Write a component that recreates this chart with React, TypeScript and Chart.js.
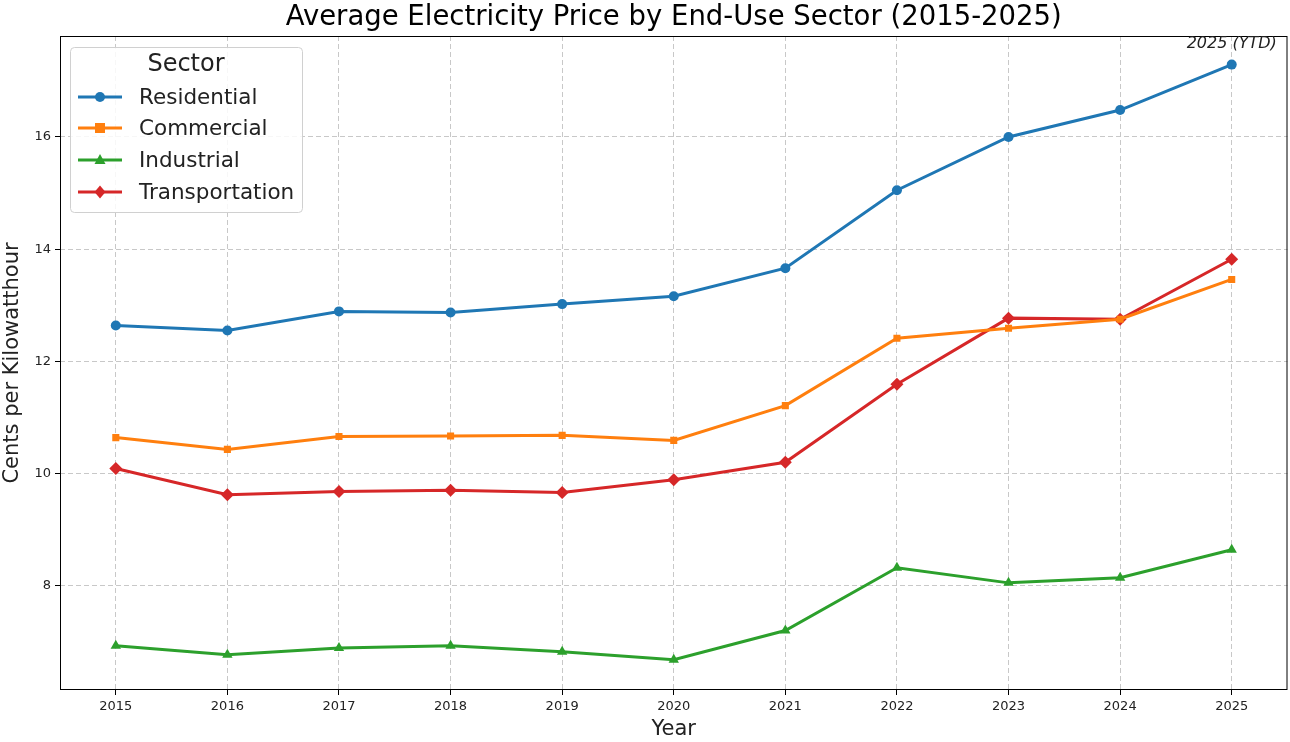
import React, { useEffect, useRef } from "react";
import { Chart, registerables } from "chart.js";

Chart.register(...registerables);

const years = [2015, 2016, 2017, 2018, 2019, 2020, 2021, 2022, 2023, 2024, 2025];
const residential = [12.64, 12.55, 12.89, 12.87, 13.02, 13.16, 13.66, 15.05, 16.0, 16.48, 17.29];
const commercial = [10.64, 10.43, 10.66, 10.67, 10.68, 10.59, 11.21, 12.41, 12.59, 12.75, 13.46];
const industrial = [6.93, 6.77, 6.89, 6.93, 6.82, 6.68, 7.2, 8.32, 8.05, 8.14, 8.64];
const transportation = [10.09, 9.62, 9.68, 9.7, 9.66, 9.89, 10.2, 11.59, 12.77, 12.75, 13.82];
const yTicks = [8, 10, 12, 14, 16];

const seriesNames = ["Residential", "Commercial", "Industrial", "Transportation"];
const seriesColors = ["#1f77b4", "#ff7f0e", "#2ca02c", "#d62728"];
const seriesMarkers = ["circle", "rect", "triangle", "rectRot"];
const seriesValues = [residential, commercial, industrial, transportation];

const FONT = "'DejaVu Sans', sans-serif";
const CANVAS_W = 1294;

function drawMarker(ctx: CanvasRenderingContext2D, style: string, x: number, y: number, r: number) {
  ctx.beginPath();
  if (style === "circle") {
    ctx.arc(x, y, r, 0, Math.PI * 2);
  } else if (style === "rect") {
    ctx.rect(x - r, y - r, r * 2, r * 2);
  } else if (style === "triangle") {
    ctx.moveTo(x, y - r * 1.2);
    ctx.lineTo(x + r * 1.1, y + r * 0.8);
    ctx.lineTo(x - r * 1.1, y + r * 0.8);
    ctx.closePath();
  } else {
    ctx.moveTo(x, y - r * 1.3);
    ctx.lineTo(x + r * 1.1, y);
    ctx.lineTo(x, y + r * 1.3);
    ctx.lineTo(x - r * 1.1, y);
    ctx.closePath();
  }
  ctx.fill();
}

const decorPlugin = {
  id: "decor",
  afterDraw(chart: any) {
    const ctx: CanvasRenderingContext2D = chart.ctx;
    const ca = chart.chartArea;
    ctx.save();
    ctx.strokeStyle = "#000";
    ctx.lineWidth = 1;
    ctx.strokeRect(ca.left + 0.5, ca.top + 0.5, ca.right - ca.left - 1, ca.bottom - ca.top - 1);
    ctx.fillStyle = "#000";
    ctx.font = `27.5px ${FONT}`;
    ctx.textAlign = "center";
    ctx.textBaseline = "middle";
    ctx.fillText("Average Electricity Price by End-Use Sector (2015-2025)", (ca.left + ca.right) / 2, 18);
    const xs = chart.scales.x;
    const ys = chart.scales.y;
    const ax = xs.getPixelForValue(2025);
    const ay = ys.getPixelForValue(residential[residential.length - 1]);
    ctx.font = `italic 16px ${FONT}`;
    ctx.fillStyle = "#222";
    ctx.fillText("2025 (YTD)", ax, ay - 21);
    const lx = 70, ly = 47, lw = 232, lh = 165;
    ctx.fillStyle = "rgba(255,255,255,0.85)";
    ctx.strokeStyle = "#d0d0d0";
    ctx.lineWidth = 1;
    ctx.beginPath();
    (ctx as any).roundRect(lx + 0.5, ly + 0.5, lw, lh, 4);
    ctx.fill();
    ctx.stroke();
    ctx.fillStyle = "#222";
    ctx.font = `24px ${FONT}`;
    ctx.textAlign = "center";
    ctx.fillText("Sector", 186, 65);
    ctx.font = `21.5px ${FONT}`;
    ctx.textAlign = "left";
    const rowY = [97, 128, 160, 192];
    for (let i = 0; i < seriesNames.length; i++) {
      const y = rowY[i];
      ctx.strokeStyle = seriesColors[i];
      ctx.lineWidth = 3;
      ctx.beginPath();
      ctx.moveTo(78, y);
      ctx.lineTo(122, y);
      ctx.stroke();
      ctx.fillStyle = seriesColors[i];
      drawMarker(ctx, seriesMarkers[i], 100, y, 5);
      ctx.fillStyle = "#222";
      ctx.fillText(seriesNames[i], 139, y + 1);
    }
    ctx.restore();
  },
};

export default function App() {
  const ref = useRef<HTMLCanvasElement>(null);
  useEffect(() => {
    document.body.style.margin = "0";
    const canvas = ref.current!;
    const chart = new Chart(canvas, {
      type: "line",
      data: {
        datasets: seriesNames.map((name, i) => ({
          label: name,
          data: years.map((yr, j) => ({ x: yr, y: seriesValues[i][j] })),
          borderColor: seriesColors[i],
          backgroundColor: seriesColors[i],
          borderWidth: 3,
          pointStyle: seriesMarkers[i] as any,
          pointRadius: i === 3 ? 6.5 : i === 2 ? 6 : 5,
          pointBorderWidth: 0,
          tension: 0,
          fill: false,
        })),
      },
      options: {
        animation: false,
        responsive: false,
        devicePixelRatio: 1,
        layout: { padding: { top: 36, right: 3, left: 0, bottom: 0 } },
        plugins: {
          legend: { display: false },
          title: { display: false },
          tooltip: { enabled: false },
        },
        scales: {
          x: {
            type: "linear",
            min: 2014.5,
            max: 2025.5,
            afterBuildTicks: (scale: any) => {
              scale.ticks = years.map((v) => ({ value: v }));
            },
            afterFit: (scale: any) => {
              scale.height = 52;
              scale.paddingLeft = 0;
              scale.paddingRight = 0;
            },
            ticks: {
              color: "#222",
              font: { family: FONT, size: 13 },
              padding: 4,
              callback: (v: any) => String(v),
              maxRotation: 0,
              autoSkip: false,
            },
            grid: {
              color: "#c8c8c8",
              lineWidth: 1,
              tickLength: 5,
              tickColor: "#000",
              drawOnChartArea: true,
            } as any,
            border: { display: false, dash: [5, 3] } as any,
            title: {
              display: true,
              text: "Year",
              color: "#222",
              font: { family: FONT, size: 21 },
              padding: { top: 3, bottom: 0 },
            },
          },
          y: {
            type: "linear",
            min: 6.14,
            max: 17.8,
            afterBuildTicks: (scale: any) => {
              scale.ticks = yTicks.map((v) => ({ value: v }));
            },
            afterFit: (scale: any) => {
              scale.width = 60;
              scale.paddingTop = 0;
              scale.paddingBottom = 0;
            },
            ticks: {
              color: "#222",
              font: { family: FONT, size: 13 },
              padding: 4,
              callback: (v: any) => String(v),
            },
            grid: {
              color: "#c8c8c8",
              lineWidth: 1,
              tickLength: 5,
              tickColor: "#000",
            } as any,
            border: { display: false, dash: [5, 3] } as any,
            title: {
              display: true,
              text: "Cents per Kilowatthour",
              color: "#222",
              font: { family: FONT, size: 21 },
              padding: { top: 0, bottom: 2 },
            },
          },
        },
      },
      plugins: [decorPlugin],
    });
    return () => chart.destroy();
  }, []);
  return (
    <div style={{ position: "fixed", left: 0, top: 0, width: 1290, height: 742, overflow: "hidden", background: "#fff" }}>
      <canvas ref={ref} width={CANVAS_W} height={742} style={{ width: CANVAS_W, height: 742 }} />
    </div>
  );
}
